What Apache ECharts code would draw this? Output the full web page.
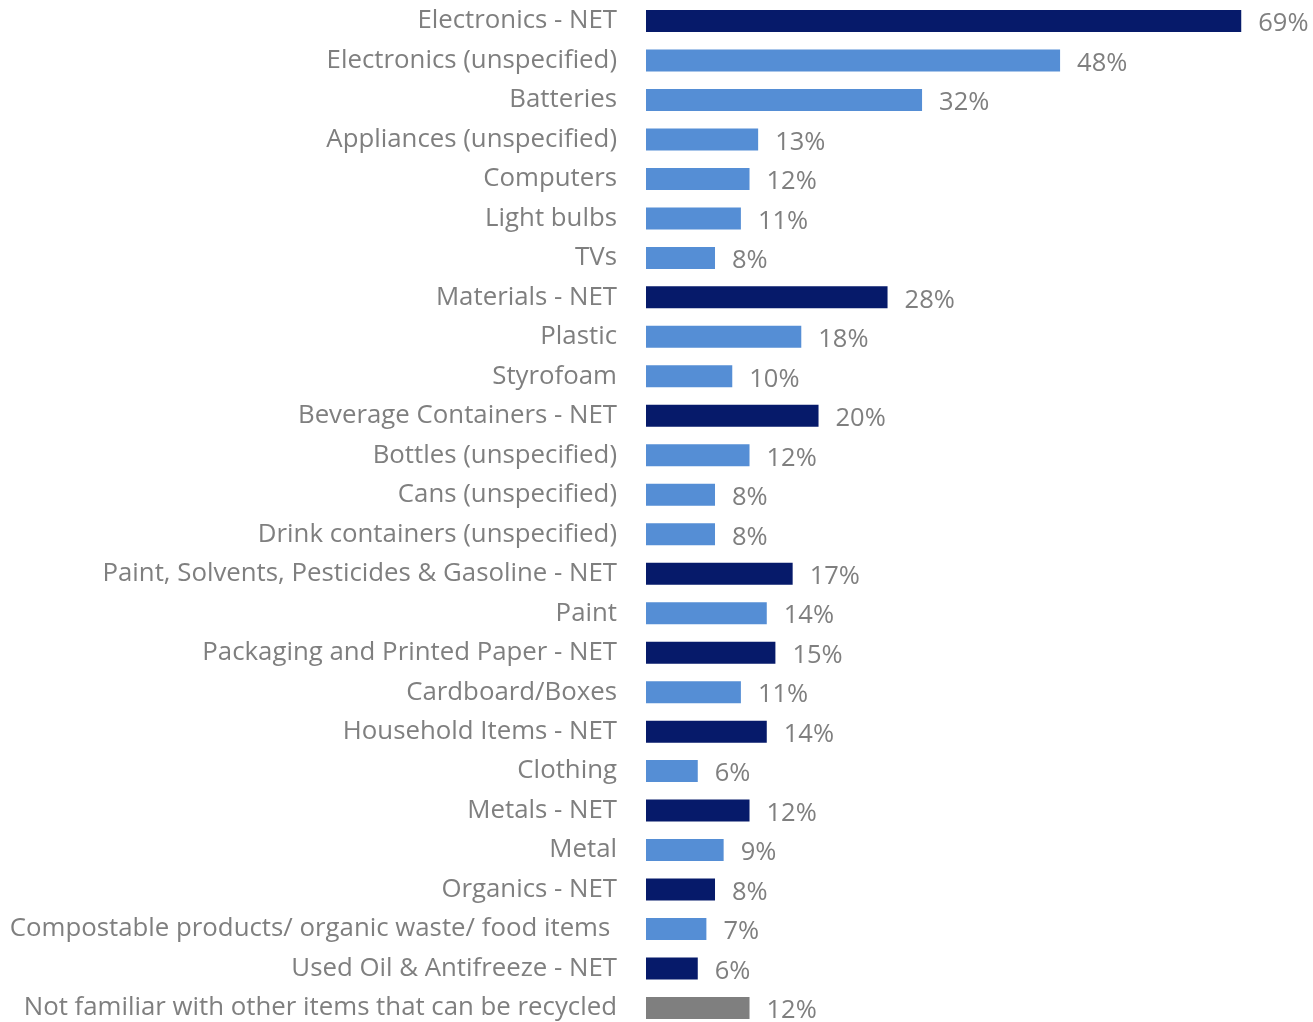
<!DOCTYPE html>
<html>
<head>
<meta charset="utf-8">
<script src="https://cdn.jsdelivr.net/npm/echarts@6/dist/echarts.min.js"></script>
<style>
  html, body { margin: 0; padding: 0; background: #fff; }
  #chart { width: 1313px; height: 1022px; }
</style>
</head>
<body>
<div id="chart"></div>
<script>
// Items people know can be recycled (share of respondents)
const categories = [
  'Electronics - NET',
  'Electronics (unspecified)',
  'Batteries',
  'Appliances (unspecified)',
  'Computers',
  'Light bulbs',
  'TVs',
  'Materials - NET',
  'Plastic',
  'Styrofoam',
  'Beverage Containers - NET',
  'Bottles (unspecified)',
  'Cans (unspecified)',
  'Drink containers (unspecified)',
  'Paint, Solvents, Pesticides & Gasoline - NET',
  'Paint',
  'Packaging and Printed Paper - NET',
  'Cardboard/Boxes',
  'Household Items - NET',
  'Clothing',
  'Metals - NET',
  'Metal',
  'Organics - NET',
  'Compostable products/ organic waste/ food items ',
  'Used Oil & Antifreeze - NET',
  'Not familiar with other items that can be recycled'
];
const values = [69, 48, 32, 13, 12, 11, 8, 28, 18, 10, 20, 12, 8, 8, 17, 14, 15, 11, 14, 6, 12, 9, 8, 7, 6, 12];
// row type: 'net' = group total, 'item' = sub-item, 'other' = not familiar
const rowTypes = ['net','item','item','item','item','item','item','net','item','item','net','item','item','item','net','item','net','item','net','item','net','item','net','item','net','other'];

const colors = { net: '#061a6a', item: '#558ed5', other: '#7f7f7f' };
const textColor = '#7f7f7f';
const fontFamily = '"Open Sans", "Noto Sans", sans-serif';

const chart = echarts.init(document.getElementById('chart'));
chart.setOption({
  animation: false,
  // rows are centred on the grid edges (boundaryGap off), so top/bottom mark the first and last row centres
  grid: { left: 646, right: 20, top: 21, bottom: 14, containLabel: false },
  xAxis: {
    type: 'value', min: 0, max: 75,
    show: false
  },
  yAxis: {
    type: 'category',
    data: categories,
    inverse: true,
    boundaryGap: false,
    axisLine: { show: false },
    axisTick: { show: false },
    splitLine: { show: false },
    axisLabel: {
      margin: 29,
      color: textColor,
      fontSize: 25.8,
      fontFamily: fontFamily,
      padding: [4, 0, 0, 0]
    }
  },
  series: [{
    type: 'bar',
    barWidth: 22,
    data: values.map((v, i) => ({ value: v, itemStyle: { color: colors[rowTypes[i]] } })),
    label: {
      show: true,
      position: 'right',
      distance: 17,
      offset: [0, 3],
      color: textColor,
      fontSize: 25.5,
      fontFamily: fontFamily,
      formatter: p => p.value + '%'
    }
  }]
});
</script>
</body>
</html>
